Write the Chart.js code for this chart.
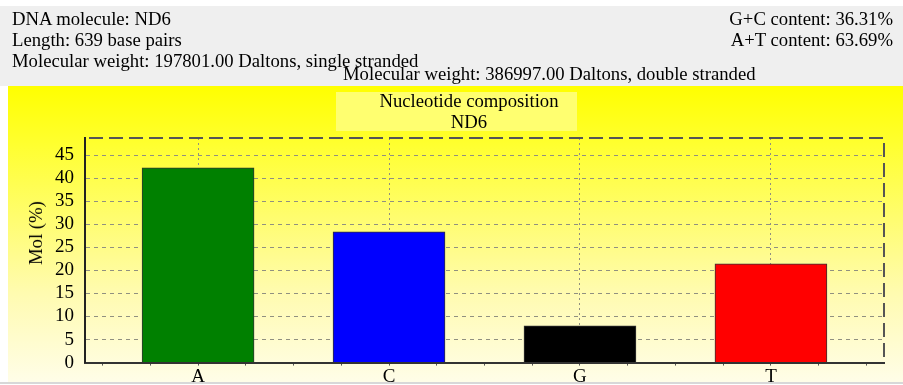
<!DOCTYPE html>
<html>
<head>
<meta charset="utf-8">
<script src="https://cdn.jsdelivr.net/npm/chart.js@4.4.1/dist/chart.umd.min.js"></script>
<style>
body { margin:0; width:903px; height:385px; position:relative; overflow:hidden; background:#fff;
	font-family:"Liberation Serif", "Times New Roman", serif; font-size:18.7px; color:#000; }
.abs { position:absolute; white-space:nowrap; line-height:21px; }
#head { position:absolute; left:0; top:6px; width:903px; height:80px; background:#efefef; }
#panel { position:absolute; left:8px; top:86px; width:895px; height:296px;
	background:linear-gradient(#ffff00 0%, #ffff30 20%, #fffbb0 70%, #fffde8 100%); }
#foot { position:absolute; left:0; top:382px; width:903px; height:2px; background:#d8d8d8; }
#titlebox { position:absolute; left:336px; top:92px; width:241px; height:39px; background:#ffff70; }
#ytitle { position:absolute; left:36px; top:233px; transform:translate(-50%,-50%) rotate(-90deg); white-space:nowrap; }
canvas { position:absolute; left:0; top:0; }
</style>
</head>
<body>
<div id="head"></div>
<div id="panel"></div>
<div id="foot"></div>
<div id="titlebox"></div>
<canvas id="c" width="903" height="385"></canvas>
<div class="abs" style="left:12px; top:8px;">DNA molecule: ND6</div>
<div class="abs" style="left:12px; top:29px;">Length: 639 base pairs</div>
<div class="abs" style="left:12px; top:50px;">Molecular weight: 197801.00 Daltons, single stranded</div>
<div class="abs" style="left:343px; top:63px;">Molecular weight: 386997.00 Daltons, double stranded</div>
<div class="abs" style="right:10px; top:8px;">G+C content: 36.31%</div>
<div class="abs" style="right:10px; top:29px;">A+T content: 63.69%</div>
<div class="abs" style="left:469px; top:90px; transform:translateX(-50%);">Nucleotide composition</div>
<div class="abs" style="left:469px; top:111px; transform:translateX(-50%);">ND6</div>
<div id="ytitle">Mol (%)</div>
<script>
const bases = ['A', 'C', 'G', 'T'];
const molPct = [42.25, 28.33, 7.98, 21.44];
const barColors = ['#008000', '#0000ff', '#000000', '#ff0000'];
const yTicks = [0, 5, 10, 15, 20, 25, 30, 35, 40, 45];

Chart.defaults.font.family = '"Liberation Serif", "Times New Roman", serif';
Chart.defaults.font.size = 19;
Chart.defaults.color = '#000';

// dashed frame on top and right side
const frame = {
	id: 'frame',
	afterDatasetsDraw(c) {
		const a = c.chartArea, x = c.ctx;
		x.save();
		x.setLineDash([14, 6]);
		x.strokeStyle = '#555';
		x.lineWidth = 2;
		x.beginPath();
		x.moveTo(a.left + 4, a.top);
		x.lineTo(a.right, a.top);
		x.lineTo(a.right, a.bottom);
		x.stroke();
		x.restore();
	}
};

const c = new Chart(document.getElementById('c'), {
	type: 'bar',
	data: {
		datasets: [{
			data: bases.map((b, i) => ({x: i + 1, y: molPct[i]})),
			backgroundColor: barColors,
			borderColor: '#333',
			borderWidth: 1,
			barThickness: 112,
		}]
	},
	options: {
		responsive: false,
		animation: false,
		layout: { padding: { left: 0, top: 138, right: 19, bottom: 0 } },
		plugins: {
			legend: { display: false },
			tooltip: { enabled: false },
		},
		scales: {
			x: {
				type: 'linear',
				offset: false,
				min: 0.408,
				max: 4.592,
				afterBuildTicks: s => {
					const t = [];
					for (let v = 0.5; v <= 4.5; v += 0.25) t.push({value: v});
					s.ticks = t;
				},
				afterFit: s => { s.height = 21; },
				ticks: {
					autoSkip: false,
					maxRotation: 0,
					padding: 0,
					callback: v => Number.isInteger(v) ? bases[v - 1] : '',
				},
				grid: {
					offset: false,
					color: ctx => ctx.tick && Number.isInteger(ctx.tick.value) ? '#909080' : 'rgba(0,0,0,0)',
					tickColor: '#555',
					tickLength: 3,
					drawTicks: true,
				},
				border: { color: '#333', width: 2, dash: [2, 3] },
			},
			y: {
				min: 0,
				max: 48.7,
				afterBuildTicks: s => { s.ticks = yTicks.map(v => ({value: v})); },
				afterFit: s => { s.width = 85; },
				ticks: { padding: 11 },
				grid: { color: '#909080', drawTicks: false },
				border: { color: '#222', width: 2, dash: [4, 4] },
			}
		}
	},
	plugins: [frame]
});
</script>
</body>
</html>
